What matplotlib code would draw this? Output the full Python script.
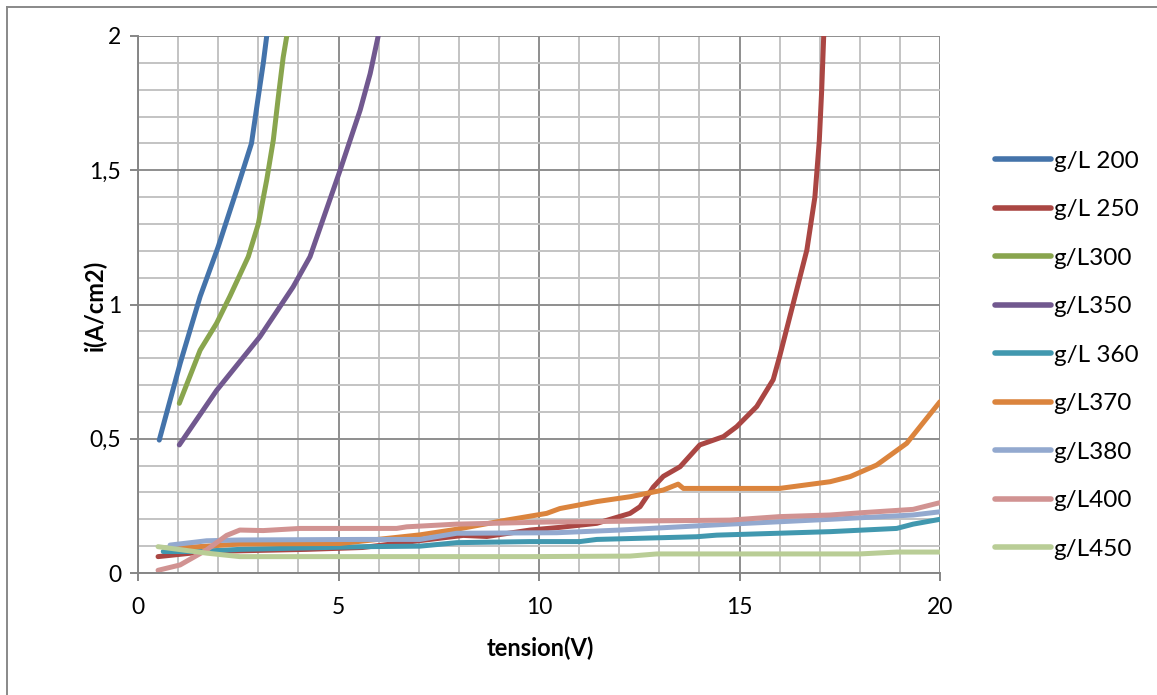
import matplotlib.pyplot as plt
from matplotlib.lines import Line2D
from matplotlib.ticker import MultipleLocator, FixedLocator

plt.rcParams["font.family"] = ["Lato", "DejaVu Sans"]

# tension (V) / current density (A/cm2)
x_200 = [0.53, 1.05, 1.55, 2.0, 2.46, 2.83, 3.0, 3.125, 3.21, 3.3]
y_200 = [0.495, 0.78, 1.03, 1.215, 1.426, 1.60, 1.774, 1.90, 2.0, 2.2]

x_250 = [0.5, 1.71, 4.2, 5.6, 8.11, 8.7, 9.78, 10.52, 11.44, 12.27, 12.52, 12.85,
         13.1, 13.52, 14.01, 14.6, 14.93, 15.43, 15.84, 16.0, 16.34, 16.68, 16.88,
         16.99, 17.05, 17.1, 17.15]
y_250 = [0.061, 0.08, 0.088, 0.095, 0.14, 0.136, 0.16, 0.17, 0.185, 0.222, 0.247,
         0.32, 0.36, 0.396, 0.477, 0.508, 0.545, 0.62, 0.72, 0.806, 1.004, 1.203,
         1.40, 1.61, 1.80, 2.0, 2.2]

x_300 = [1.03, 1.55, 1.96, 2.29, 2.75, 3.0, 3.21, 3.375, 3.5, 3.62, 3.71, 3.8]
y_300 = [0.632, 0.83, 0.93, 1.03, 1.178, 1.30, 1.464, 1.613, 1.774, 1.92, 2.0, 2.2]

x_350 = [1.03, 1.96, 3.04, 3.87, 4.29, 5.04, 5.54, 5.79, 5.99, 6.1]
y_350 = [0.477, 0.68, 0.88, 1.066, 1.178, 1.50, 1.724, 1.86, 2.0, 2.2]

x_360 = [0.63, 1.46, 2.54, 5.6, 7.03, 7.95, 9.78, 11.02, 11.44, 13.93, 14.43,
         17.26, 18.92, 19.33, 20.0]
y_360 = [0.08, 0.08, 0.088, 0.098, 0.1, 0.113, 0.117, 0.117, 0.125, 0.135, 0.141,
         0.154, 0.166, 0.182, 0.2]

x_370 = [0.88, 2.54, 5.04, 7.03, 7.95, 9.19, 10.19, 10.52, 11.44, 12.27, 13.1,
         13.47, 13.6, 16.0, 17.26, 17.76, 18.42, 19.17, 20.0]
y_370 = [0.092, 0.108, 0.11, 0.142, 0.163, 0.197, 0.222, 0.24, 0.266, 0.284, 0.309,
         0.331, 0.315, 0.315, 0.34, 0.359, 0.402, 0.483, 0.638]

x_380 = [0.8, 1.71, 2.54, 5.6, 7.03, 7.95, 10.44, 12.02, 14.76, 17.26, 19.33, 20.0]
y_380 = [0.104, 0.12, 0.123, 0.125, 0.125, 0.148, 0.15, 0.16, 0.182, 0.2, 0.216, 0.228]

x_400 = [0.5, 1.05, 1.71, 2.21, 2.54, 3.12, 4.04, 6.45, 6.7, 7.95, 10.27, 14.76,
         16.0, 17.26, 18.09, 19.33, 20.0]
y_400 = [0.01, 0.03, 0.086, 0.14, 0.16, 0.158, 0.166, 0.166, 0.172, 0.182, 0.19,
         0.197, 0.21, 0.216, 0.225, 0.237, 0.262]

x_450 = [0.5, 1.71, 2.54, 9.78, 12.27, 12.94, 18.0, 18.92, 20.0]
y_450 = [0.098, 0.074, 0.061, 0.061, 0.063, 0.071, 0.071, 0.078, 0.078]

labels = ["g/L 200", "g/L 250", "g/L300", "g/L350", "g/L 360",
          "g/L370", "g/L380", "g/L400", "g/L450"]
colors = ["#4473AA", "#AA4643", "#89A54E", "#71588F", "#4198AF",
          "#DB843D", "#93A9CF", "#D19392", "#B9CD96"]

series = [(x_200, y_200), (x_250, y_250), (x_300, y_300), (x_350, y_350),
          (x_360, y_360), (x_370, y_370), (x_380, y_380), (x_400, y_400),
          (x_450, y_450)]

W, H = 1157, 695
fig = plt.figure(figsize=(W / 100, H / 100), dpi=100)
ax = fig.add_axes([138 / W, 1 - 573 / H, (940 - 138) / W, (573 - 36) / H])

for (xs, ys), lab, col in zip(series, labels, colors):
    ax.plot(xs, ys, color=col, lw=3.6, label=lab,
            solid_capstyle="round", solid_joinstyle="round")

ax.set_xlim(0, 20)
ax.set_ylim(0, 2)
ax.xaxis.set_major_locator(MultipleLocator(5))
ax.xaxis.set_minor_locator(MultipleLocator(1))
ax.yaxis.set_major_locator(FixedLocator([0, 0.5, 1, 1.5, 2]))
ax.yaxis.set_minor_locator(MultipleLocator(0.1))
ax.set_yticklabels(["0", "0,5", "1", "1,5", "2"])

ax.grid(which="minor", color="#C3C3C3", lw=1.4)
ax.grid(which="major", color="#8E8E8E", lw=1.4)
ax.set_axisbelow(True)

for side in ["top", "right"]:
    ax.spines[side].set_visible(False)
for side in ["left", "bottom"]:
    ax.spines[side].set_color("#868686")
    ax.spines[side].set_linewidth(1.4)

ax.tick_params(which="major", length=6, width=1.4, color="#868686",
               labelsize=16.5)
ax.tick_params(axis="x", which="major", pad=11)
ax.tick_params(axis="y", which="major", pad=6)
ax.tick_params(which="minor", length=0)

fig.text(540 / W, 1 - 648 / H, "tension(V)", fontsize=17, fontweight="bold",
         ha="center", va="center")
fig.text(95 / W, 1 - 305 / H, "i(A/cm2)", fontsize=17, fontweight="bold",
         ha="center", va="center", rotation=90)

leg = fig.legend(loc="upper left", bbox_to_anchor=(985 / W, 1 - 141 / H),
                 frameon=False, fontsize=17.5, handlelength=2.3,
                 handletextpad=0.12, labelspacing=1.13, borderaxespad=0)
for h in leg.get_lines():
    h.set_linewidth(4)
    h.set_solid_capstyle("round")

# outer chart frame (only top and left edges visible)
fig.add_artist(Line2D([7 / W, 7 / W], [1 - 7 / H, 0], color="#898989", lw=1.4))
fig.add_artist(Line2D([7 / W, 1], [1 - 7 / H, 1 - 7 / H], color="#898989", lw=1.4))

fig.savefig("out.png", dpi=100)
